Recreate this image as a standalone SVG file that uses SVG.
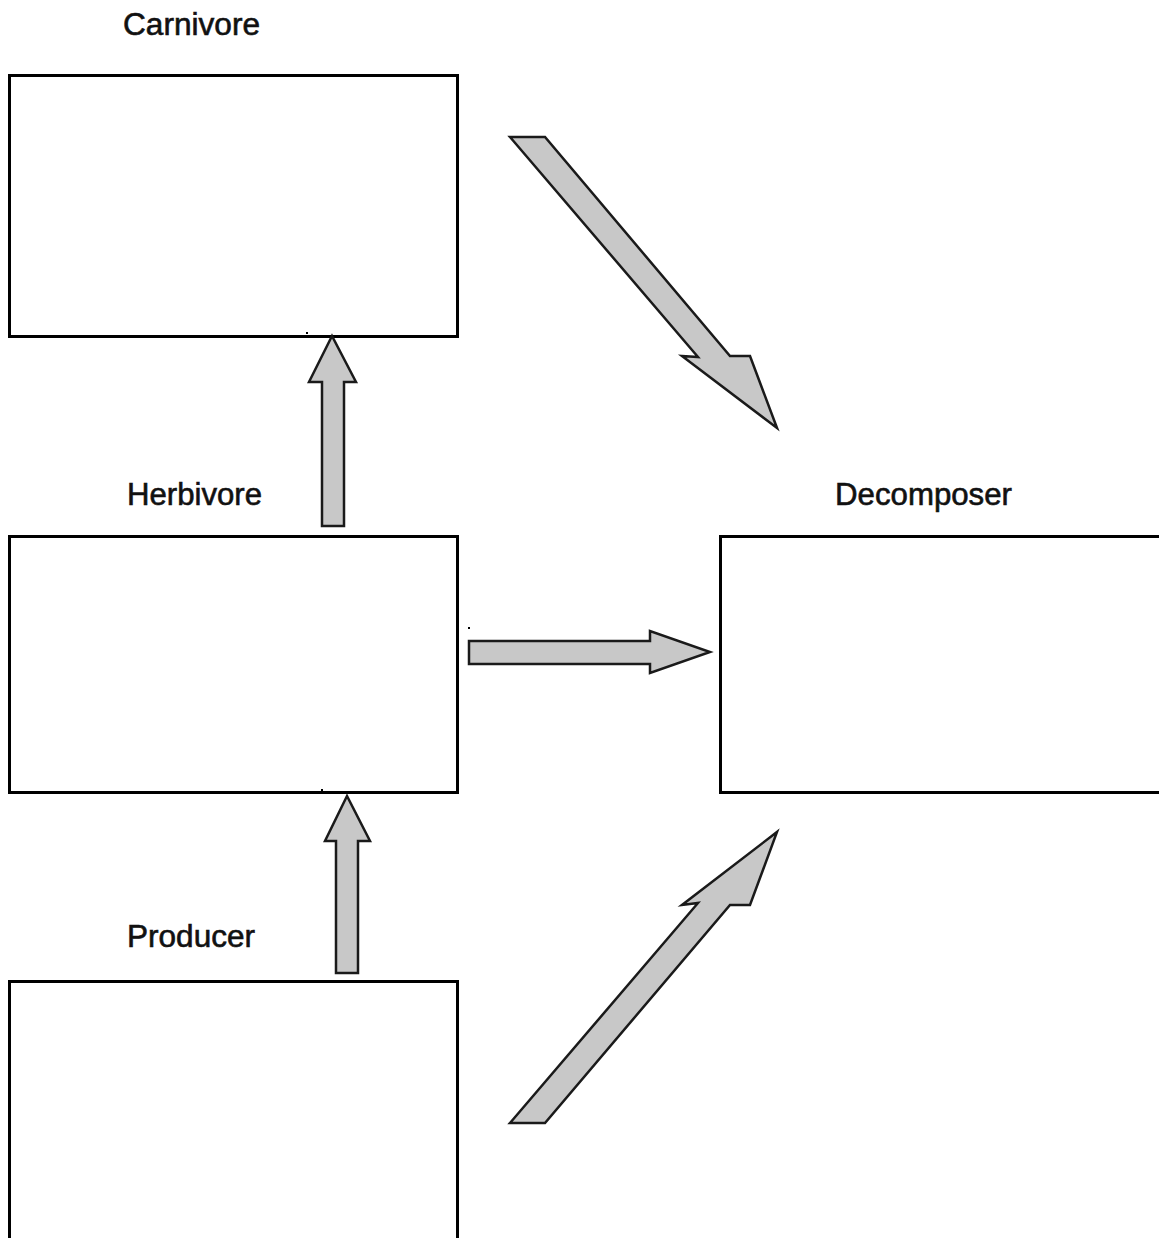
<svg xmlns="http://www.w3.org/2000/svg" width="1159" height="1238" viewBox="0 0 1159 1238">
<style>
.box{fill:#fff;stroke:#000;stroke-width:3}
.lbl{font-family:"Liberation Sans",Arial,sans-serif;font-size:31px;fill:#111;stroke:#111;stroke-width:0.6}
.arr{fill:#c8c8c8;stroke:#1a1a1a;stroke-width:2.5;stroke-linejoin:miter}
.dot{fill:#000}
</style>
<rect width="1159" height="1238" fill="#fff"/>
<g id="carnivore">
<rect class="box" x="9.5" y="75.5" width="448" height="261"/>
<text class="lbl" x="123" y="35" textLength="137" lengthAdjust="spacingAndGlyphs">Carnivore</text>
</g>
<g id="herbivore">
<rect class="box" x="9.5" y="536.5" width="448" height="256"/>
<text class="lbl" x="127" y="505" textLength="135" lengthAdjust="spacingAndGlyphs">Herbivore</text>
</g>
<g id="decomposer">
<rect class="box" x="720.5" y="536.5" width="450" height="256"/>
<text class="lbl" x="835" y="505" textLength="177" lengthAdjust="spacingAndGlyphs">Decomposer</text>
</g>
<g id="producer">
<rect class="box" x="9.5" y="981.5" width="448" height="270"/>
<text class="lbl" x="127" y="947" textLength="128" lengthAdjust="spacingAndGlyphs">Producer</text>
</g>
<g id="connectors">
<polygon class="arr" points="510,137 545,137 730,356 750,356 777,428 682,356 698,357"/>
<polygon class="arr" points="322,526 322,382 309,382 332,336 356,382 344,382 344,526"/>
<polygon class="arr" points="469,641 650,641 650,631 710,652 650,673 650,664 469,664"/>
<polygon class="arr" points="336,973 336,841 325,841 347,796 370,841 358,841 358,973"/>
<polygon class="arr" points="510,1123 545,1123 730,905 750,905 777,832 682,905 698,903"/>
</g>
<g id="specks">
<rect class="dot" x="306" y="332" width="2" height="2"/>
<rect class="dot" x="321" y="789" width="2" height="2"/>
<rect class="dot" x="468" y="627" width="2" height="2"/>
</g>
</svg>
